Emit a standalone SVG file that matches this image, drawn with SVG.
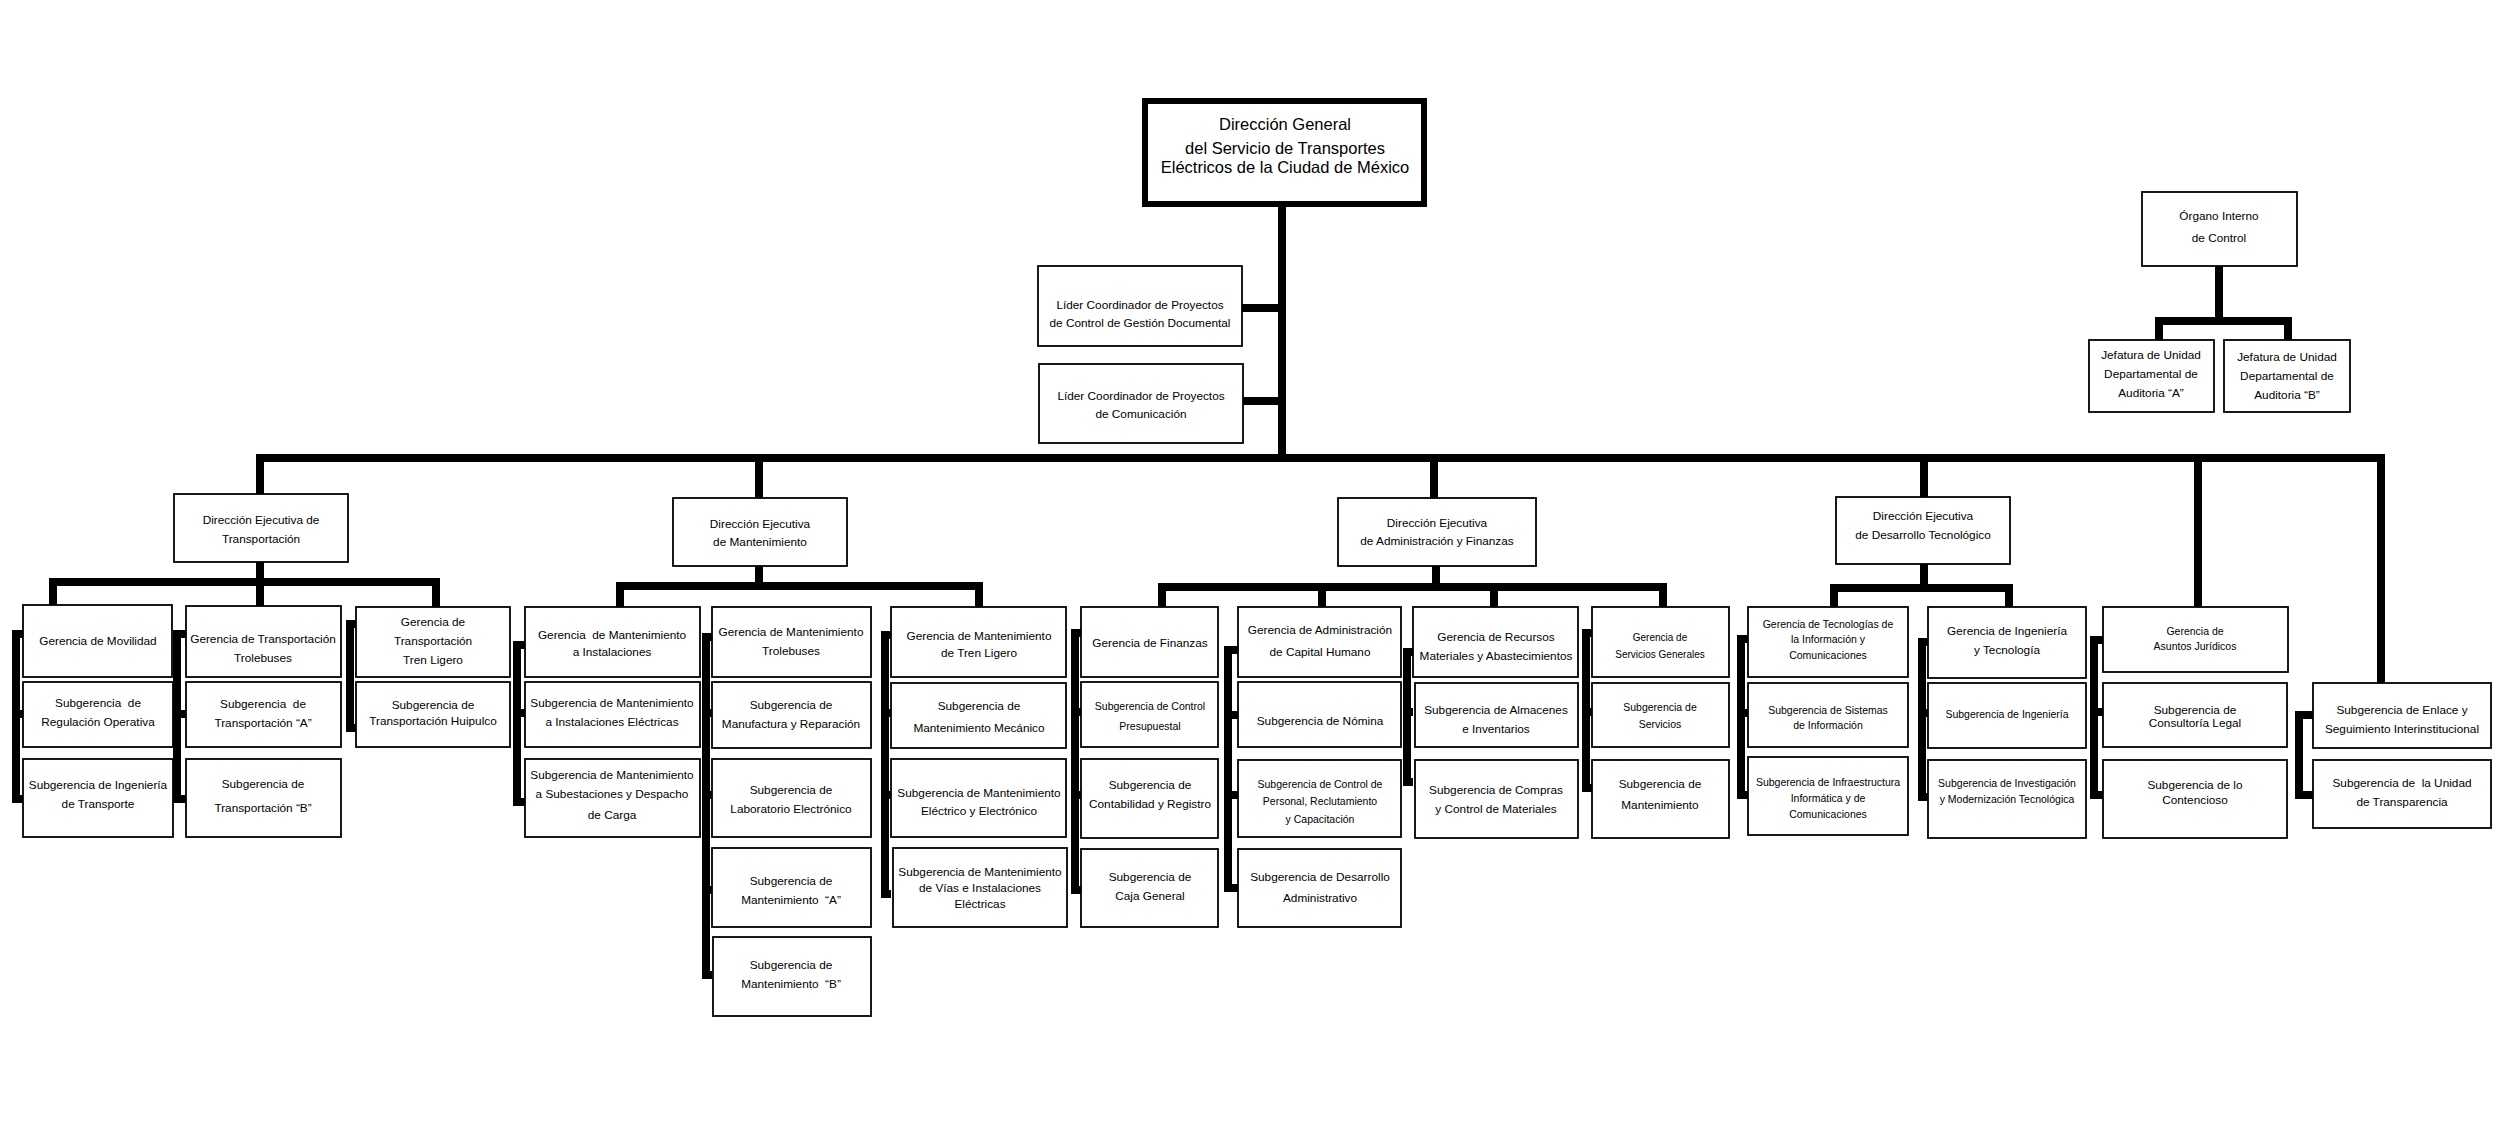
<svg xmlns="http://www.w3.org/2000/svg" width="2510" height="1132" viewBox="0 0 2510 1132">
<style>
.bx{fill:#fff;stroke:#000;stroke-width:1.8}
.rt{fill:#fff;stroke:#000;stroke-width:6}
.c{fill:none;stroke:#000;stroke-width:8;stroke-linejoin:miter}
text{font-family:"Liberation Sans",Arial,sans-serif;font-size:11.8px;text-anchor:middle;fill:#000;white-space:pre}
.s{font-size:10.5px}
.xs{font-size:10px}
.r{font-size:16.5px}
</style>
<rect width="2510" height="1132" fill="#fff"/>
<g id="connectors">
<path class="c" d="M260,494 V458 H2381 V683"/>
<path class="c" d="M1282,207 V458 M1242,308 H1282 M1243,401 H1282"/>
<path class="c" d="M759,458 V498 M1434,458 V498 M1924,458 V497 M2198,458 V607"/>
<path class="c" d="M2219,266 V321 M2159,340 V321 H2288 V340"/>
<path class="c" d="M260,562 V606 M53,605 V582 H436 V607"/>
<path class="c" d="M23,634 H16 V799 H23 M16,714 H23"/>
<path class="c" d="M186,634 H177 V799 H186 M177,714 H186"/>
<path class="c" d="M356,624 H350 V728 H356"/>
<path class="c" d="M759,566 V586 M620,607 V586 H979 V607"/>
<path class="c" d="M525,645 H517 V802 H525 M517,713 H525"/>
<path class="c" d="M712,637 H706 V975 H712 M706,713 H712 M706,795 H712 M706,890 H712"/>
<path class="c" d="M891,635 H885 V894 H891 M885,713 H891 M885,795 H891"/>
<path class="c" d="M1436,566 V587 M1162,607 V587 H1663 V607 M1322,587 V607 M1494,587 V607"/>
<path class="c" d="M1081,633 H1075 V890 H1081 M1075,712 H1081 M1075,795 H1081"/>
<path class="c" d="M1238,650 H1228 V888 H1238 M1228,715 H1238 M1228,795 H1238"/>
<path class="c" d="M1413,652 H1407 V782 H1413 M1407,712 H1413"/>
<path class="c" d="M1592,633 H1586 V788 H1592 M1586,712 H1592"/>
<path class="c" d="M1924,564 V588 M1834,607 V588 H2009 V607"/>
<path class="c" d="M1748,639 H1741 V795 H1748 M1741,713 H1748"/>
<path class="c" d="M1928,642 H1922 V797 H1928 M1922,713 H1928"/>
<path class="c" d="M2103,640 H2094 V795 H2103 M2094,712 H2103"/>
<path class="c" d="M2313,715 H2299 V795 H2313"/>
</g>
<g id="direccion-general"><rect class="rt" x="1145" y="101" width="279" height="103"/><text class="r" x="1285" y="130">Dirección General</text><text class="r" x="1285" y="154">del Servicio de Transportes</text><text class="r" x="1285" y="173">Eléctricos de la Ciudad de México</text></g>
<g id="lider-gestion"><rect class="bx" x="1038" y="266" width="204" height="80"/><text x="1140" y="309">Líder Coordinador de Proyectos</text><text x="1140" y="327">de Control de Gestión Documental</text></g>
<g id="lider-comunicacion"><rect class="bx" x="1039" y="364" width="204" height="79"/><text x="1141" y="400">Líder Coordinador de Proyectos</text><text x="1141" y="418">de Comunicación</text></g>
<g id="organo-interno"><rect class="bx" x="2142" y="192" width="155" height="74"/><text x="2219" y="220">Órgano Interno</text><text x="2219" y="242">de Control</text></g>
<g id="auditoria-a"><rect class="bx" x="2089" y="340" width="125" height="72"/><text x="2151" y="359">Jefatura de Unidad</text><text x="2151" y="378">Departamental de</text><text x="2151" y="397">Auditoria “A”</text></g>
<g id="auditoria-b"><rect class="bx" x="2224" y="340" width="126" height="72"/><text x="2287" y="361">Jefatura de Unidad</text><text x="2287" y="380">Departamental de</text><text x="2287" y="399">Auditoria “B”</text></g>

<g id="de-transportacion"><rect class="bx" x="174" y="494" width="174" height="68"/><text x="261" y="524">Dirección Ejecutiva de</text><text x="261" y="543">Transportación</text></g>
<g id="g-movilidad"><rect class="bx" x="23" y="605" width="149" height="72"/><text x="98" y="645">Gerencia de Movilidad</text></g>
<g id="s-regulacion"><rect class="bx" x="23" y="682" width="150" height="65"/><text x="98" y="707">Subgerencia  de</text><text x="98" y="726">Regulación Operativa</text></g>
<g id="s-ingenieria-transporte"><rect class="bx" x="23" y="759" width="150" height="78"/><text x="98" y="789">Subgerencia de Ingeniería</text><text x="98" y="808">de Transporte</text></g>
<g id="g-trolebuses"><rect class="bx" x="186" y="606" width="155" height="71"/><text x="263" y="643">Gerencia de Transportación</text><text x="263" y="662">Trolebuses</text></g>
<g id="s-transp-a"><rect class="bx" x="186" y="682" width="155" height="65"/><text x="263" y="708">Subgerencia  de</text><text x="263" y="727">Transportación “A”</text></g>
<g id="s-transp-b"><rect class="bx" x="186" y="759" width="155" height="78"/><text x="263" y="788">Subgerencia de</text><text x="263" y="812">Transportación “B”</text></g>
<g id="g-tren-ligero"><rect class="bx" x="356" y="607" width="154" height="70"/><text x="433" y="626">Gerencia de</text><text x="433" y="645">Transportación</text><text x="433" y="664">Tren Ligero</text></g>
<g id="s-huipulco"><rect class="bx" x="356" y="682" width="154" height="65"/><text x="433" y="709">Subgerencia de</text><text x="433" y="725">Transportación Huipulco</text></g>

<g id="de-mantenimiento"><rect class="bx" x="673" y="498" width="174" height="68"/><text x="760" y="528">Dirección Ejecutiva</text><text x="760" y="546">de Mantenimiento</text></g>
<g id="g-mant-instalaciones"><rect class="bx" x="525" y="607" width="175" height="70"/><text x="612" y="639">Gerencia  de Mantenimiento</text><text x="612" y="656">a Instalaciones</text></g>
<g id="s-inst-electricas"><rect class="bx" x="525" y="682" width="175" height="65"/><text x="612" y="707">Subgerencia de Mantenimiento</text><text x="612" y="726">a Instalaciones Eléctricas</text></g>
<g id="s-subestaciones"><rect class="bx" x="525" y="759" width="175" height="78"/><text x="612" y="779">Subgerencia de Mantenimiento</text><text x="612" y="798">a Subestaciones y Despacho</text><text x="612" y="819">de Carga</text></g>
<g id="g-mant-trolebuses"><rect class="bx" x="712" y="607" width="159" height="70"/><text x="791" y="636">Gerencia de Mantenimiento</text><text x="791" y="655">Trolebuses</text></g>
<g id="s-manufactura"><rect class="bx" x="712" y="682" width="159" height="66"/><text x="791" y="709">Subgerencia de</text><text x="791" y="728">Manufactura y Reparación</text></g>
<g id="s-laboratorio"><rect class="bx" x="712" y="759" width="159" height="78"/><text x="791" y="794">Subgerencia de</text><text x="791" y="813">Laboratorio Electrónico</text></g>
<g id="s-mant-a"><rect class="bx" x="712" y="848" width="159" height="79"/><text x="791" y="885">Subgerencia de</text><text x="791" y="904">Mantenimiento  “A”</text></g>
<g id="s-mant-b"><rect class="bx" x="713" y="937" width="158" height="79"/><text x="791" y="969">Subgerencia de</text><text x="791" y="988">Mantenimiento  “B”</text></g>
<g id="g-mant-tren"><rect class="bx" x="891" y="607" width="175" height="70"/><text x="979" y="640">Gerencia de Mantenimiento</text><text x="979" y="657">de Tren Ligero</text></g>
<g id="s-mecanico"><rect class="bx" x="891" y="683" width="175" height="65"/><text x="979" y="710">Subgerencia de</text><text x="979" y="732">Mantenimiento Mecánico</text></g>
<g id="s-electrico"><rect class="bx" x="891" y="759" width="175" height="78"/><text x="979" y="797">Subgerencia de Mantenimiento</text><text x="979" y="815">Eléctrico y Electrónico</text></g>
<g id="s-vias"><rect class="bx" x="893" y="848" width="174" height="79"/><text x="980" y="876">Subgerencia de Mantenimiento</text><text x="980" y="892">de Vías e Instalaciones</text><text x="980" y="908">Eléctricas</text></g>

<g id="de-administracion"><rect class="bx" x="1338" y="498" width="198" height="68"/><text x="1437" y="527">Dirección Ejecutiva</text><text x="1437" y="545">de Administración y Finanzas</text></g>
<g id="g-finanzas"><rect class="bx" x="1081" y="607" width="137" height="70"/><text x="1150" y="647">Gerencia de Finanzas</text></g>
<g id="s-presupuestal"><rect class="bx" x="1081" y="682" width="137" height="65"/><text class="s" x="1150" y="710">Subgerencia de Control</text><text class="s" x="1150" y="730">Presupuestal</text></g>
<g id="s-contabilidad"><rect class="bx" x="1081" y="759" width="137" height="79"/><text x="1150" y="789">Subgerencia de</text><text x="1150" y="808">Contabilidad y Registro</text></g>
<g id="s-caja"><rect class="bx" x="1081" y="849" width="137" height="78"/><text x="1150" y="881">Subgerencia de</text><text x="1150" y="900">Caja General</text></g>
<g id="g-capital-humano"><rect class="bx" x="1238" y="607" width="163" height="70"/><text x="1320" y="634">Gerencia de Administración</text><text x="1320" y="656">de Capital Humano</text></g>
<g id="s-nomina"><rect class="bx" x="1238" y="682" width="163" height="65"/><text x="1320" y="725">Subgerencia de Nómina</text></g>
<g id="s-control-personal"><rect class="bx" x="1238" y="760" width="163" height="77"/><text class="s" x="1320" y="788">Subgerencia de Control de</text><text class="s" x="1320" y="805">Personal, Reclutamiento</text><text class="s" x="1320" y="823">y Capacitación</text></g>
<g id="s-desarrollo-adm"><rect class="bx" x="1238" y="849" width="163" height="78"/><text x="1320" y="881">Subgerencia de Desarrollo</text><text x="1320" y="902">Administrativo</text></g>
<g id="g-recursos"><rect class="bx" x="1413" y="607" width="165" height="70"/><text x="1496" y="641">Gerencia de Recursos</text><text x="1496" y="660">Materiales y Abastecimientos</text></g>
<g id="s-almacenes"><rect class="bx" x="1415" y="683" width="163" height="64"/><text x="1496" y="714">Subgerencia de Almacenes</text><text x="1496" y="733">e Inventarios</text></g>
<g id="s-compras"><rect class="bx" x="1415" y="760" width="163" height="78"/><text x="1496" y="794">Subgerencia de Compras</text><text x="1496" y="813">y Control de Materiales</text></g>
<g id="g-servicios"><rect class="bx" x="1592" y="607" width="137" height="70"/><text class="xs" x="1660" y="641">Gerencia de</text><text class="xs" x="1660" y="658">Servicios Generales</text></g>
<g id="s-servicios"><rect class="bx" x="1592" y="683" width="137" height="64"/><text class="s" x="1660" y="711">Subgerencia de</text><text class="s" x="1660" y="728">Servicios</text></g>
<g id="s-mantenimiento"><rect class="bx" x="1592" y="760" width="137" height="78"/><text x="1660" y="788">Subgerencia de</text><text x="1660" y="809">Mantenimiento</text></g>

<g id="de-desarrollo"><rect class="bx" x="1836" y="497" width="174" height="67"/><text x="1923" y="520">Dirección Ejecutiva</text><text x="1923" y="539">de Desarrollo Tecnológico</text></g>
<g id="g-tic"><rect class="bx" x="1748" y="607" width="160" height="70"/><text class="s" x="1828" y="628">Gerencia de Tecnologías de</text><text class="s" x="1828" y="643">la Información y</text><text class="s" x="1828" y="659">Comunicaciones</text></g>
<g id="s-sistemas"><rect class="bx" x="1748" y="683" width="160" height="64"/><text class="s" x="1828" y="714">Subgerencia de Sistemas</text><text class="s" x="1828" y="729">de Información</text></g>
<g id="s-infraestructura"><rect class="bx" x="1748" y="757" width="160" height="78"/><text class="s" x="1828" y="786">Subgerencia de Infraestructura</text><text class="s" x="1828" y="802">Informática y de</text><text class="s" x="1828" y="818">Comunicaciones</text></g>
<g id="g-ingenieria"><rect class="bx" x="1928" y="607" width="158" height="71"/><text x="2007" y="635">Gerencia de Ingeniería</text><text x="2007" y="654">y Tecnología</text></g>
<g id="s-ingenieria"><rect class="bx" x="1928" y="683" width="158" height="65"/><text class="s" x="2007" y="718">Subgerencia de Ingeniería</text></g>
<g id="s-investigacion"><rect class="bx" x="1928" y="760" width="158" height="78"/><text class="s" x="2007" y="787">Subgerencia de Investigación</text><text class="s" x="2007" y="803">y Modernización Tecnológica</text></g>

<g id="g-juridicos"><rect class="bx" x="2103" y="607" width="185" height="65"/><text class="s" x="2195" y="635">Gerencia de</text><text class="s" x="2195" y="650">Asuntos Jurídicos</text></g>
<g id="s-consultoria"><rect class="bx" x="2103" y="683" width="184" height="64"/><text x="2195" y="714">Subgerencia de</text><text x="2195" y="727">Consultoría Legal</text></g>
<g id="s-contencioso"><rect class="bx" x="2103" y="760" width="184" height="78"/><text x="2195" y="789">Subgerencia de lo</text><text x="2195" y="804">Contencioso</text></g>
<g id="s-enlace"><rect class="bx" x="2313" y="683" width="178" height="65"/><text x="2402" y="714">Subgerencia de Enlace y</text><text x="2402" y="733">Seguimiento Interinstitucional</text></g>
<g id="s-transparencia"><rect class="bx" x="2313" y="760" width="178" height="68"/><text x="2402" y="787">Subgerencia de  la Unidad</text><text x="2402" y="806">de Transparencia</text></g>
</svg>
